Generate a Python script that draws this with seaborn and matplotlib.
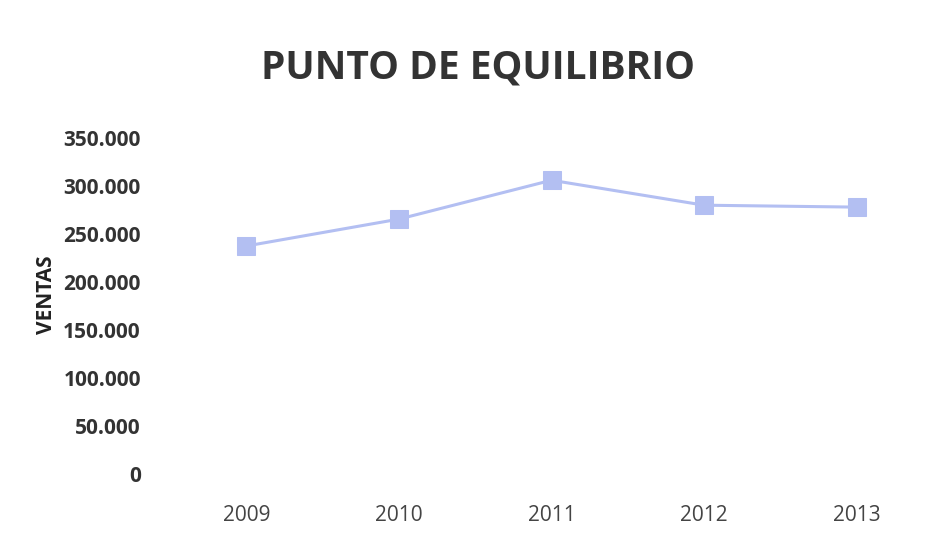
import matplotlib
matplotlib.use("Agg")
import matplotlib.pyplot as plt
import matplotlib.ticker as mticker
import seaborn as sns
import pandas as pd

years = ["2009", "2010", "2011", "2012", "2013"]
ventas = [237500, 265500, 306000, 280000, 278000]
y_ticks = [0, 50000, 100000, 150000, 200000, 250000, 300000, 350000]

df = pd.DataFrame({"Año": years, "Ventas": ventas})

sns.set_theme(style="white")
plt.rcParams["font.family"] = ["Open Sans", "DejaVu Sans"]

fig = plt.figure(figsize=(9.41, 5.51), dpi=100)
ax = fig.add_axes([170 / 941, 1 - 474 / 551, (933 - 170) / 941, (474 - 138) / 551])

line_color = "#b3bff2"
sns.lineplot(data=df, x="Año", y="Ventas", ax=ax, color=line_color, linewidth=2.2,
             marker="s", markersize=13, markeredgecolor=line_color,
             markerfacecolor=line_color, sort=False)

ax.set_xlim(-0.5, len(years) - 0.5)
ax.set_ylim(0, 350000)
ax.set_yticks(y_ticks)
ax.yaxis.set_major_formatter(
    mticker.FuncFormatter(lambda v, _: f"{int(v):,}".replace(",", ".")))

for side in ["top", "right", "left", "bottom"]:
    ax.spines[side].set_visible(False)
ax.tick_params(axis="both", length=0)
ax.tick_params(axis="y", pad=21, labelsize=15, labelcolor="#333333")
ax.tick_params(axis="x", pad=22, labelsize=15, labelcolor="#444444")
for lbl in ax.get_yticklabels():
    lbl.set_fontweight("bold")

ax.set_xlabel("")
ax.set_ylabel("VENTAS", fontsize=15, fontweight="bold", color="#222222")
ax.yaxis.set_label_coords(-113 / 763, (474 - 295) / 336)

fig.text(478 / 941, 1 - 68 / 551, "PUNTO DE EQUILIBRIO", ha="center", va="center",
         fontsize=28, fontweight="bold", color="#333333")

fig.savefig("out.png", dpi=100)
